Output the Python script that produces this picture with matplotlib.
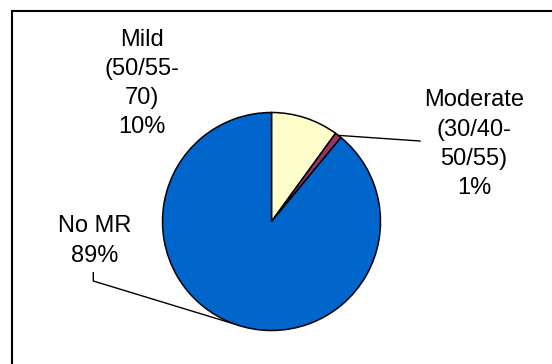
import numpy as np
import matplotlib
matplotlib.use("Agg")
import matplotlib.pyplot as plt

plt.rcParams['font.family'] = ['Liberation Sans', 'DejaVu Sans']

# MR severity share
categories = ["Mild\n(50/55-\n70)", "Moderate\n(30/40-\n50/55)", "No MR"]
shares = [10, 1, 89]
colors = ["#FFFFCC", "#993366", "#0066CC"]

W, H = 552, 364
fig = plt.figure(figsize=(W / 100, H / 100), dpi=100)
ax = fig.add_axes([0, 0, 1, 1])

# work in pixel units, y pointing up
cx, cy, r = 271.5, H - 221.5, 109
wedges, _ = ax.pie(shares, colors=colors, startangle=90, counterclock=False,
                   center=(cx, cy), radius=r,
                   wedgeprops=dict(edgecolor="black", linewidth=1.1))
ax.set_xlim(0, W)
ax.set_ylim(0, H)
ax.set_aspect("equal")
ax.axis("off")

# chart area border (only top and left edges fall inside the image)
ax.plot([12, W + 10], [H - 11, H - 11], color="black", lw=1.5,
        solid_capstyle="projecting")
ax.plot([12, 12], [H - 11, -10], color="black", lw=1.5,
        solid_capstyle="projecting")

labels = [f"{name}\n{v:.0f}%" for name, v in zip(categories, shares)]
txt = dict(ha="center", va="top", multialignment="center",
           fontsize=17, linespacing=1.42, color="black")

def edge_point(w):
    mid = np.deg2rad((w.theta1 + w.theta2) / 2)
    return cx + r * np.cos(mid), cy + r * np.sin(mid)

# Mild: no leader
ax.text(141.5, H - 29, labels[0], **txt)

# Moderate: leader to the right
ax.text(474, H - 89.5, labels[1], **txt)
ex, ey = edge_point(wedges[1])
ax.plot([ex, 420], [ey, H - 141], color="black", lw=1.0)

# No MR: leader bending down to the lower edge
ax.text(94.5, H - 215.5, labels[2], **txt)
ex, ey = edge_point(wedges[2])
ax.plot([93.3, 93.3, ex], [H - 272.7, H - 281, ey], color="black", lw=1.0)

fig.savefig("out.png", dpi=100)
